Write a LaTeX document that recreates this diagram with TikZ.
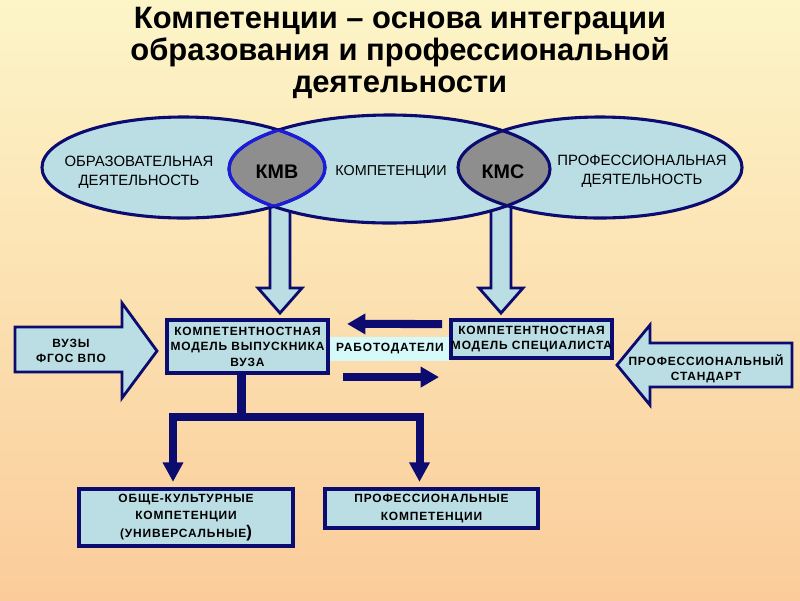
\documentclass[tikz,border=0pt]{standalone}
\usepackage{fontspec}
\setmainfont{Liberation Sans}
\newfontfamily\spaced[LetterSpace=7]{Liberation Sans}
\usetikzlibrary{arrows.meta,calc,positioning}

\definecolor{navy}{RGB}{12,12,112}
\definecolor{paleblue}{RGB}{186,222,228}
\definecolor{lensgray}{RGB}{142,142,142}
\definecolor{kmvblue}{RGB}{28,28,222}
\definecolor{bgtop}{RGB}{252,245,200}
\definecolor{bgbot}{RGB}{251,204,154}
\definecolor{labelbg}{RGB}{214,250,250}

\begin{document}
\begin{tikzpicture}[x=0.025cm,y=-0.025cm]
    \tikzstyle{title}=[align=center, font=\bfseries\fontsize{22}{22.5}\selectfont]
    \tikzstyle{oval}=[draw=navy, line width=2.2pt]
    \tikzstyle{ovaltext}=[align=center, font=\fontsize{10.6}{13.5}\selectfont]
    \tikzstyle{lens}=[font=\bfseries\fontsize{14}{16}\selectfont]
    \tikzstyle{box}=[draw=navy, line width=2.8pt, fill=paleblue, align=center, inner sep=0pt,
                     font=\spaced\bfseries\fontsize{8.5}{11}\selectfont]
    \tikzstyle{hollow}=[draw=navy, line width=2pt, fill=paleblue, line join=miter]
    \tikzstyle{bar}=[draw=navy, line width=5.7pt, -{Triangle[length=13pt,width=14pt]}]
    \tikzstyle{tree}=[draw=navy, line width=5.7pt, line join=miter]

    % background and frame
    \shade[top color=bgtop, bottom color=bgbot] (0,0) rectangle (800,600);
    \useasboundingbox (0,0) rectangle (800,600);

    \node[title] (head) at (400,53) {Компетенции – основа интеграции\\образования и профессиональной\\деятельности};

    % hollow arrows from the lenses
    \foreach \cx in {280,501} {
        \filldraw[hollow] (\cx-10,190) -- (\cx-10,288) -- (\cx-22,288) -- (\cx,313)
            -- (\cx+22,288) -- (\cx+10,288) -- (\cx+10,190) -- cycle;
    }

    % three ovals
    \fill[paleblue] (183.5,167.5) ellipse [x radius=141.5, y radius=50.5];
    \fill[paleblue] (389.5,169) ellipse [x radius=160.5, y radius=54];
    \fill[paleblue] (600,167.5) ellipse [x radius=142, y radius=50.5];
    \begin{scope}
        \clip (183.5,167.5) ellipse [x radius=141.5, y radius=50.5];
        \fill[lensgray] (389.5,169) ellipse [x radius=160.5, y radius=54];
    \end{scope}
    \begin{scope}
        \clip (600,167.5) ellipse [x radius=142, y radius=50.5];
        \fill[lensgray] (389.5,169) ellipse [x radius=160.5, y radius=54];
    \end{scope}
    \draw[oval] (183.5,167.5) ellipse [x radius=141.5, y radius=50.5];
    \draw[oval] (389.5,169) ellipse [x radius=160.5, y radius=54];
    \draw[oval] (600,167.5) ellipse [x radius=142, y radius=50.5];
    \begin{scope}
        \clip (183.5,167.5) ellipse [x radius=141.5, y radius=50.5];
        \draw[oval, draw=kmvblue] (389.5,169) ellipse [x radius=160.5, y radius=54];
    \end{scope}
    \begin{scope}
        \clip (389.5,169) ellipse [x radius=160.5, y radius=54];
        \draw[oval, draw=kmvblue] (183.5,167.5) ellipse [x radius=141.5, y radius=50.5];
    \end{scope}

    \node[ovaltext] (edu) at (139,172) {ОБРАЗОВАТЕЛЬНАЯ\\ДЕЯТЕЛЬНОСТЬ};
    \node[ovaltext, font=\fontsize{10.2}{11}\selectfont] (comp) at (391,172) {КОМПЕТЕНЦИИ};
    \node[ovaltext] (work) at (642,171) {ПРОФЕССИОНАЛЬНАЯ\\ДЕЯТЕЛЬНОСТЬ};
    \node[lens] (kmv) at (277,172) {КМВ};
    \node[lens] (kms) at (503,172) {КМС};

    % side arrows
    \filldraw[hollow] (15,327) -- (122,327) -- (122,303) -- (157,351) -- (122,398)
        -- (122,372) -- (15,372) -- cycle;
    \filldraw[hollow] (792,343) -- (650,343) -- (650,325) -- (617,365) -- (650,405)
        -- (650,387) -- (792,387) -- cycle;
    \node[box, draw=none, fill=none] (vuz) at (71,351) {ВУЗЫ\\ФГОС ВПО};
    \node[box, draw=none, fill=none] (std) at (706,369) {ПРОФЕССИОНАЛЬНЫЙ\\СТАНДАРТ};

    % models
    \node[box, draw=none, fill=labelbg, minimum width=3cm, minimum height=0.6cm] (boss) at (390,349) {РАБОТОДАТЕЛИ};
    \node[box, minimum width=4.03cm, minimum height=1.33cm] (grad) at (247.5,346.5)
        {КОМПЕТЕНТНОСТНАЯ\\МОДЕЛЬ ВЫПУСКНИКА\\ВУЗА};
    \node[box, minimum width=3.98cm, minimum height=0.95cm] (spec) at (531.5,339)
        {КОМПЕТЕНТНОСТНАЯ\\МОДЕЛЬ СПЕЦИАЛИСТА};

    \draw[bar] ($(spec.north west)+(-7,6)$) -- ($(grad.north east)+(17,6)$);
    \draw[bar] ($(grad.south east)+(13,2)$) -- ($(spec.west |- grad.south east)+(-10,2)$);

    % competences
    \node[box, minimum width=5.35cm, minimum height=1.43cm,
          font=\spaced\bfseries\fontsize{8.5}{12.5}\selectfont] (gen) at (186,517.5)
        {ОБЩЕ-КУЛЬТУРНЫЕ\\КОМПЕТЕНЦИИ\\(УНИВЕРСАЛЬНЫЕ{\large)}};
    \node[box, minimum width=5.33cm, minimum height=0.98cm,
          font=\spaced\bfseries\fontsize{8.5}{12.5}\selectfont] (prof) at (431.5,508.5)
        {ПРОФЕССИОНАЛЬНЫЕ\\КОМПЕТЕНЦИИ};

    \coordinate (fork) at ($(grad.south)+(-6,42)$);
    \draw[tree] (grad.south -| fork) -- (fork);
    \draw[tree, -{Triangle[length=14pt,width=14pt]}] (fork) -| ($(gen.north)+(-13,-5)$);
    \draw[tree, -{Triangle[length=14pt,width=14pt]}] (fork) -| ($(prof.north)+(-12,-5)$);
\end{tikzpicture}
\end{document}
